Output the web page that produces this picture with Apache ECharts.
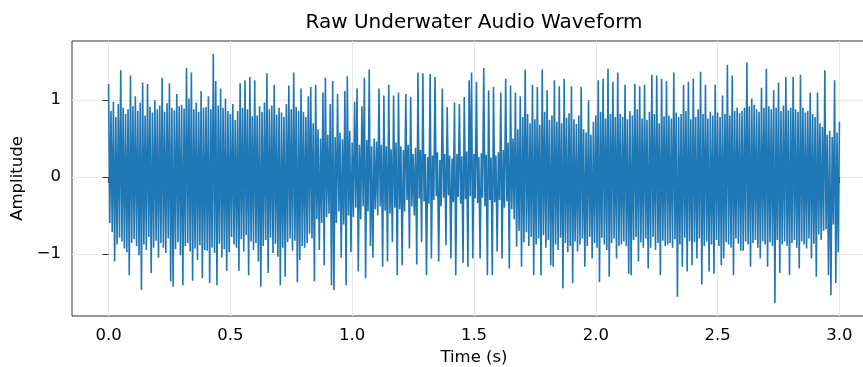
<!DOCTYPE html>
<html>
<head>
<meta charset="utf-8">
<script src="https://cdn.jsdelivr.net/npm/echarts@6/dist/echarts.min.js"></script>
<style>
  html, body { margin: 0; padding: 0; background: #ffffff; overflow: hidden; }
  #chart { width: 863px; height: 367px; }
</style>
</head>
<body>
<div id="chart"></div>
<script>
// Hydrophone recording, one amplitude value every 5 ms.
const sampleStep = 0.005;

// 0.0 - 0.5 s
const ampA = [
  1.21,-0.60,0.86,-0.72,0.98,-1.10,0.78,-0.88,0.95,-0.79,1.39,-0.84,0.90,-0.93,0.82,-0.98,0.88,-1.28,1.32,-0.86,
  0.92,-0.81,1.05,-0.90,0.86,-1.02,0.97,-1.47,1.23,-0.88,0.80,-0.95,1.21,-0.78,0.91,-1.25,0.84,-0.92,1.00,-0.83,
  0.88,-1.05,0.93,-0.86,1.29,-0.92,0.85,-0.99,0.96,-0.80,1.22,-1.36,0.90,-1.43,0.87,-0.94,1.08,-0.85,0.92,-1.02,
  0.94,-1.41,0.89,-0.90,1.42,-0.86,1.02,-0.97,1.36,-1.35,0.88,-0.93,0.97,-1.08,0.85,-0.89,1.12,-1.32,0.90,-0.95,
  0.91,-0.96,1.05,-1.38,0.88,-0.92,1.60,-0.99,1.25,-1.41,0.93,-0.87,1.15,-1.05,0.90,-0.94,1.02,-1.22,0.86,-0.98
];
// 0.5 - 1.0 s
const ampB = [
  0.82,-0.78,0.95,-0.88,0.74,-0.92,0.86,-1.22,1.22,-0.81,0.90,-0.97,1.26,-0.76,0.88,-1.28,1.30,-0.84,0.79,-0.95,
  1.26,-0.86,0.80,-1.10,0.92,-1.43,0.85,-0.90,0.97,-0.82,1.35,-1.25,0.88,-0.79,0.93,-0.99,1.20,-0.87,0.81,-1.04,
  0.90,-1.41,0.84,-0.92,0.78,-1.30,0.95,-0.85,1.19,-0.80,0.88,-0.96,1.36,-0.83,0.91,-1.37,0.86,-1.08,1.15,-0.90,
  0.85,-0.92,0.78,-0.86,1.05,-0.74,1.17,-0.80,0.70,-1.36,1.20,-0.55,0.62,-0.95,0.50,-0.60,1.10,-1.15,1.29,-0.52,
  0.55,-0.48,0.95,-1.41,1.25,-1.47,0.52,-0.60,1.08,-0.45,0.58,-1.05,0.49,-0.62,1.12,-1.41,1.31,-0.50,0.60,-0.98
];
// 1.0 - 1.5 s
const ampC = [
  0.45,-0.52,0.98,-0.40,1.15,-1.23,0.42,-0.55,0.92,-0.38,1.29,-1.32,0.48,-0.45,1.40,-0.90,0.40,-1.05,0.50,-0.42,
  0.46,-0.50,1.15,-0.38,0.42,-1.17,1.06,-0.44,0.40,-1.10,1.20,-0.48,0.36,-0.85,1.06,-0.40,0.45,-1.28,1.10,-0.42,
  0.40,-1.15,0.35,-0.45,1.08,-0.30,0.42,-0.93,1.04,-0.38,0.30,-0.50,0.38,-1.14,1.36,-0.28,0.35,-0.85,1.35,-0.32,
  0.30,-1.28,0.26,-0.35,1.34,-1.06,0.28,-0.30,1.30,-0.25,0.32,-1.10,0.22,-0.38,1.15,-0.27,0.30,-0.89,0.91,-0.24,
  0.28,-1.06,0.24,-0.33,0.97,-1.28,0.30,-0.26,0.95,-0.35,0.27,-1.12,1.04,-0.29,0.33,-1.17,1.26,-0.25,1.36,-1.06
];
// 1.5 - 2.0 s
const ampD = [
  0.30,-0.28,1.24,-0.34,0.26,-1.06,0.31,-0.27,1.42,-0.38,0.29,-1.28,1.13,-0.30,0.25,-1.28,1.17,-0.33,0.28,-0.97,
  0.32,-0.30,1.10,-1.06,0.35,-0.40,1.28,-0.32,0.45,-1.19,1.19,-0.42,0.50,-0.55,1.10,-0.91,0.62,-0.70,1.05,-1.17,
  0.78,-0.85,1.40,-0.72,0.82,-0.90,0.70,-0.78,1.20,-1.28,0.75,-0.88,1.17,-0.80,0.68,-1.28,1.40,-0.76,0.85,-0.92,
  1.13,-0.82,0.74,-1.15,0.80,-1.17,1.26,-0.88,0.72,-0.95,1.18,-0.79,0.70,-1.45,1.28,-0.86,0.77,-0.98,0.83,-0.90,
  1.18,-1.38,0.75,-0.84,0.69,-0.97,0.80,-0.88,1.17,-0.80,0.62,-1.17,0.58,-0.90,1.00,-0.78,0.55,-1.06,0.72,-0.86
];
// 2.0 - 2.5 s
const ampE = [
  0.80,-0.92,1.26,-1.37,0.85,-0.79,1.28,-0.88,0.76,-0.95,1.41,-1.30,0.82,-0.86,1.24,-0.80,0.78,-1.06,1.36,-0.90,
  0.82,-0.88,0.78,-0.84,1.20,-0.90,0.75,-1.26,0.86,-1.28,0.80,-0.82,1.21,-0.78,0.88,-1.10,1.18,-0.85,0.76,-0.92,
  1.20,-0.80,0.74,-1.19,0.85,-0.92,1.33,-0.78,0.82,-0.95,1.32,-0.86,0.70,-1.28,1.28,-0.83,0.79,-0.90,1.25,-0.88,
  0.80,-0.86,0.76,-0.92,1.36,-0.81,0.84,-1.56,0.78,-0.88,0.82,-1.17,1.20,-0.79,0.86,-1.23,1.24,-0.84,0.75,-1.15,
  1.28,-0.85,0.78,-1.06,0.88,-0.80,1.37,-1.40,0.82,-0.90,1.20,-0.84,0.76,-1.23,0.85,-0.88,0.80,-1.26,1.20,-0.82
];
// 2.5 - 3.0 s
const ampF = [
  0.84,-0.90,0.78,-1.15,1.06,-1.06,0.82,-0.85,1.46,-0.88,0.80,-0.92,1.32,-1.28,0.86,-0.80,0.90,-0.87,0.83,-0.96,
  0.86,-0.96,0.90,-0.84,1.49,-0.88,0.92,-1.17,1.02,-0.86,0.94,-0.82,0.88,-0.92,0.85,-1.06,1.16,-0.84,0.90,-0.88,
  1.41,-1.17,0.92,-0.85,0.88,-0.90,1.13,-1.64,0.90,-0.82,1.23,-1.25,0.86,-0.88,0.93,-0.84,1.30,-0.90,0.87,-1.28,
  0.90,-0.86,1.30,-0.82,0.88,-0.92,0.85,-1.19,1.33,-0.84,0.90,-0.88,0.84,-0.93,0.86,-0.80,1.10,-1.06,0.82,-0.87,
  0.78,-1.30,1.10,-0.75,0.70,-0.82,0.65,-0.70,1.39,-0.68,0.55,-1.28,0.60,-1.54,0.52,-0.62,1.26,-1.38,0.58,-0.98,
  0.72
];

const xTicks = [0, 0.5, 1, 1.5, 2, 2.5, 3];
const yTicks = [-1, 0, 1];

const samples = [].concat(ampA, ampB, ampC, ampD, ampE, ampF);
const points = samples.map((v, i) => [+(i * sampleStep).toFixed(3), v]);

const FONT = '"DejaVu Sans", sans-serif';
const chart = echarts.init(document.getElementById('chart'), null, { renderer: 'canvas' });

chart.setOption({
  animation: false,
  backgroundColor: '#ffffff',
  graphic: [{
    type: 'text',
    x: 474,
    y: 23,
    style: {
      text: 'Raw Underwater Audio Waveform',
      font: '20px "DejaVu Sans", sans-serif',
      fill: '#000000',
      align: 'center',
      verticalAlign: 'middle'
    }
  }],
  grid: {
    // the axes box runs past the right edge of the canvas
    left: 72, top: 41, width: 804, height: 275,
    outerBoundsMode: 'none',
    show: true, borderColor: '#333333', borderWidth: 1,
    backgroundColor: 'transparent',
    containLabel: false
  },
  xAxis: {
    type: 'value',
    min: -0.15, max: 3.15,
    axisLine: { show: false },
    axisTick: { show: true, customValues: xTicks, length: 6, lineStyle: { color: '#333333', width: 1 } },
    axisLabel: {
      customValues: xTicks,
      formatter: v => v.toFixed(1),
      margin: 11, color: '#000000', fontSize: 16.5, fontFamily: FONT
    },
    splitLine: { show: true, lineStyle: { color: '#e8e8e8', width: 1 } },
    name: 'Time (s)', nameLocation: 'middle', nameGap: 33,
    nameTextStyle: { color: '#000000', fontSize: 16.5, fontFamily: FONT }
  },
  yAxis: {
    type: 'value',
    min: -1.81, max: 1.77,
    axisLine: { show: false },
    axisTick: { show: true, customValues: yTicks, length: 6, lineStyle: { color: '#333333', width: 1 } },
    axisLabel: {
      customValues: yTicks,
      formatter: v => (v < 0 ? '\u2212' + Math.abs(v) : String(v)),
      margin: 11, color: '#000000', fontSize: 16.5, fontFamily: FONT
    },
    splitLine: { show: true, lineStyle: { color: '#e8e8e8', width: 1 } },
    name: 'Amplitude', nameLocation: 'middle', nameGap: 42, nameRotate: 90,
    nameTextStyle: { color: '#000000', fontSize: 16.5, fontFamily: FONT }
  },
  series: [{
    type: 'line',
    data: points,
    showSymbol: false,
    symbol: 'none',
    silent: true,
    lineStyle: { color: '#1f77b4', width: 1.6 }
  }]
});
</script>
</body>
</html>
